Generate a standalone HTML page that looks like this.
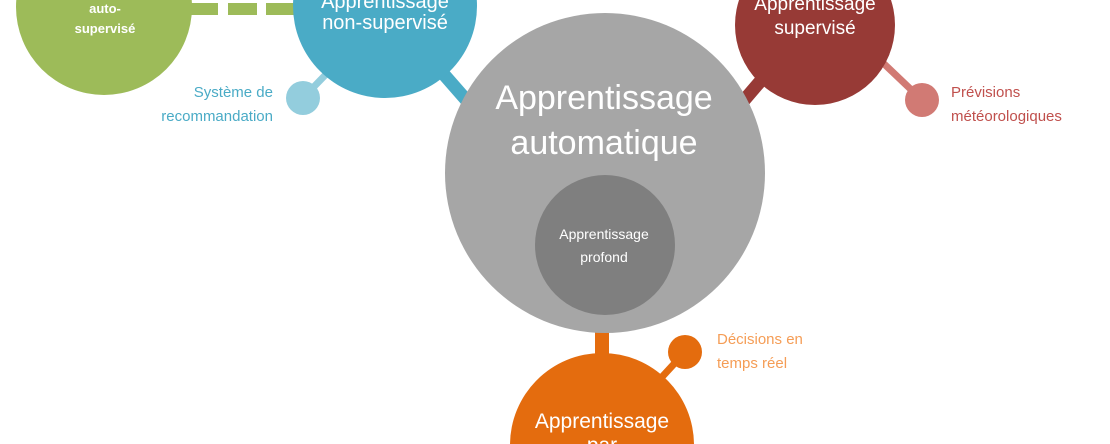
<!DOCTYPE html>
<html><head><meta charset="utf-8"><style>
html,body{margin:0;padding:0;background:#fff;width:1110px;height:444px;overflow:hidden;}
svg{display:block;font-family:"Liberation Sans","DejaVu Sans",sans-serif;}
</style></head><body>
<svg width="1110" height="444" viewBox="0 0 1110 444" xmlns="http://www.w3.org/2000/svg">
<g fill="#9dbb59">
<rect x="185" y="3" width="33" height="12"/>
<rect x="228" y="3" width="29" height="12"/>
<rect x="266" y="3" width="35" height="12"/>
</g>
<line x1="440" y1="70" x2="475" y2="110" stroke="#4aabc6" stroke-width="13"/>
<line x1="740" y1="105" x2="770" y2="70" stroke="#973a36" stroke-width="13"/>
<rect x="595" y="325" width="14" height="40" fill="#e46c0e"/>
<line x1="303" y1="98" x2="335" y2="65" stroke="#93cddd" stroke-width="7"/>
<line x1="880" y1="60" x2="922" y2="100" stroke="#d17a74" stroke-width="7"/>
<line x1="650" y1="390" x2="685" y2="352" stroke="#e46c0e" stroke-width="7"/>
<circle cx="104" cy="7" r="88" fill="#9dbb59"/>
<circle cx="385" cy="6" r="92" fill="#4aabc6"/>
<circle cx="815" cy="25" r="80" fill="#973a36"/>
<circle cx="605" cy="173" r="160" fill="#a6a6a6"/>
<circle cx="605" cy="245" r="70" fill="#7f7f7f"/>
<circle cx="602" cy="445" r="92" fill="#e46c0e"/>
<circle cx="303" cy="98" r="17" fill="#93cddd"/>
<circle cx="922" cy="100" r="17" fill="#d17a74"/>
<circle cx="685" cy="352" r="17" fill="#e46c0e"/>
<g fill="#fff" text-anchor="middle">
<text x="105" y="13" font-size="13" font-weight="bold">auto-</text>
<text x="105" y="33" font-size="13" font-weight="bold">supervisé</text>
<text x="385" y="8" font-size="20">Apprentissage</text>
<text x="385" y="29" font-size="20">non-supervisé</text>
<text x="815" y="10" font-size="19">Apprentissage</text>
<text x="815" y="34" font-size="19">supervisé</text>
<text x="604" y="109" font-size="34">Apprentissage</text>
<text x="604" y="154" font-size="34">automatique</text>
<text x="604" y="239" font-size="14">Apprentissage</text>
<text x="604" y="262" font-size="14">profond</text>
<text x="602" y="428" font-size="21">Apprentissage</text>
<text x="602" y="452" font-size="21">par</text>
</g>
<g font-size="15">
<text x="273" y="97" fill="#4aabc6" text-anchor="end">Système de</text>
<text x="273" y="121" fill="#4aabc6" text-anchor="end">recommandation</text>
<text x="951" y="97" fill="#c0504d">Prévisions</text>
<text x="951" y="121" fill="#c0504d">météorologiques</text>
<text x="717" y="344" fill="#f59d56">Décisions en</text>
<text x="717" y="368" fill="#f59d56">temps réel</text>
</g>
</svg>
</body></html>
